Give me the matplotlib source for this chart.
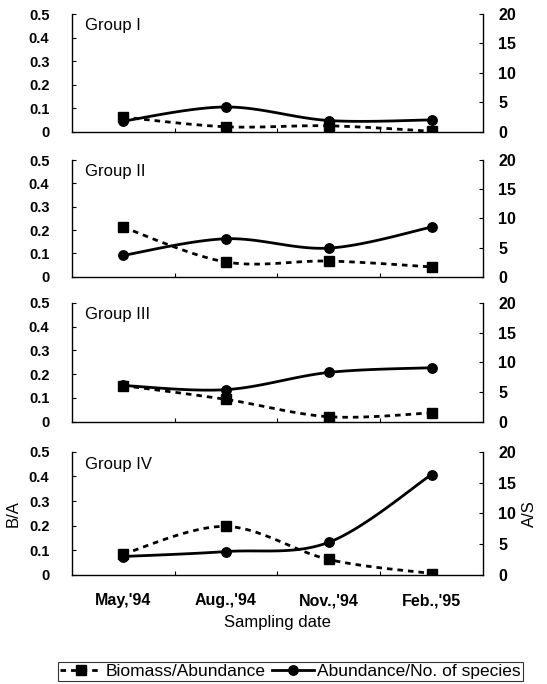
import numpy as np
import matplotlib
matplotlib.use("Agg")
import matplotlib.pyplot as plt
from matplotlib.lines import Line2D

plt.rcParams['font.family'] = ['Liberation Sans', 'DejaVu Sans']

# Sampling dates and groups
dates = ["May,'94", "Aug.,'94", "Nov.,'94", "Feb.,'95"]
groups = ["Group I", "Group II", "Group III", "Group IV"]

# Biomass/Abundance (left axis, B/A)
ba_g1 = [0.062, 0.021, 0.025, 0.002]
ba_g2 = [0.212, 0.063, 0.067, 0.042]
ba_g3 = [0.152, 0.094, 0.021, 0.037]
ba_g4 = [0.085, 0.197, 0.063, 0.006]

# Abundance/No. of species (right axis, A/S)
as_g1 = [1.8, 4.2, 1.9, 2.0]
as_g2 = [3.65, 6.5, 4.9, 8.5]
as_g3 = [6.1, 5.4, 8.3, 9.1]
as_g4 = [3.0, 3.8, 5.3, 16.3]

ba_series = [ba_g1, ba_g2, ba_g3, ba_g4]
as_series = [as_g1, as_g2, as_g3, as_g4]


def smooth(xs, ys, n=40):
    """Catmull-Rom style Bezier smoothing through the given points."""
    xs = np.asarray(xs, float)
    ys = np.asarray(ys, float)
    P = np.column_stack([xs, ys])
    m = len(P)
    out = []
    for i in range(m - 1):
        p0 = P[i - 1] if i > 0 else P[i]
        p1 = P[i]
        p2 = P[i + 1]
        p3 = P[i + 2] if i + 2 < m else P[i + 1]
        c1 = p1 + (p2 - p0) / 6.0
        c2 = p2 - (p3 - p1) / 6.0
        t = np.linspace(0, 1, n)[:, None]
        seg = ((1 - t) ** 3) * p1 + 3 * ((1 - t) ** 2) * t * c1 \
            + 3 * (1 - t) * t ** 2 * c2 + t ** 3 * p2
        out.append(seg if i == 0 else seg[1:])
    arr = np.vstack(out)
    return arr[:, 0], arr[:, 1]


W, H = 547, 684
fig = plt.figure(figsize=(W / 100, H / 100), dpi=100)

left_px, right_px = 71.7, 483.0
panels_px = [(14.0, 131.7), (160.0, 276.7), (303.0, 421.7), (451.7, 575.0)]

x = np.arange(len(dates))
lw = 2.0
dash = (2.0, 1.8)

for k, (top, bot) in enumerate(panels_px):
    ax = fig.add_axes([left_px / W, 1 - bot / H,
                       (right_px - left_px) / W, (bot - top) / H])
    ax2 = ax.twinx()

    ax.set_xlim(-0.5, 3.5)
    ax.set_ylim(0, 0.5)
    ax2.set_ylim(0, 20)

    # B/A: dashed line with squares
    sx, sy = smooth(x, ba_series[k])
    ax.plot(sx, sy, color='black', lw=lw, dashes=dash, zorder=3)
    ax.plot(x, ba_series[k], ls='none', marker='s', ms=6.8,
            color='black', zorder=4)

    # A/S: solid line with circles
    sx, sy = smooth(x, as_series[k])
    ax2.plot(sx, sy, color='black', lw=lw, zorder=3)
    ax2.plot(x, as_series[k], ls='none', marker='o', ms=6.8,
             color='black', zorder=4)

    ax.set_yticks([0, 0.1, 0.2, 0.3, 0.4, 0.5])
    ax.set_yticklabels(['0', '0.1', '0.2', '0.3', '0.4', '0.5'])
    ax2.set_yticks([0, 5, 10, 15, 20])

    ax.set_xticks(x)
    ax.set_xticks([0.5, 1.5, 2.5], minor=True)
    ax.tick_params(axis='x', which='major', length=0, pad=13,
                   labelsize=11.5)
    ax.tick_params(axis='x', which='minor', length=3, direction='in',
                   width=0.8)
    if k == len(panels_px) - 1:
        ax.set_xticklabels(dates, fontweight='bold')
    else:
        ax.set_xticklabels([])

    ax.tick_params(axis='y', direction='in', length=3, width=0.8,
                   pad=16, labelsize=10.5)
    ax2.tick_params(axis='y', direction='in', length=3, width=0.8,
                    pad=11, labelsize=11.5)
    for lab in ax.get_yticklabels() + ax2.get_yticklabels():
        lab.set_fontweight('bold')

    for a in (ax, ax2):
        a.spines['top'].set_visible(False)
        for s in a.spines.values():
            s.set_linewidth(1.0)
    ax.spines['right'].set_visible(False)
    ax2.spines['left'].set_visible(False)
    ax2.spines['bottom'].set_visible(False)

    ax.text(0.032, 0.90, groups[k], transform=ax.transAxes,
            fontsize=12, va='center', ha='left')

    if k == len(panels_px) - 1:
        ax.set_ylabel('B/A', fontsize=12, labelpad=6)
        ax2.set_ylabel('A/S', fontsize=12, labelpad=4, rotation=90)
        ax.set_xlabel('Sampling date', fontsize=12, labelpad=5)

handles = [
    Line2D([], [], color='black', lw=lw, dashes=dash, marker='s',
           ms=6.8),
    Line2D([], [], color='black', lw=lw, marker='o', ms=6.8),
]
labels = ['Biomass/Abundance', 'Abundance/No. of species']
leg = fig.legend(handles, labels, loc='lower center',
                 bbox_to_anchor=(0.531, 0.004), ncol=2, fontsize=12.5,
                 frameon=True, fancybox=False, edgecolor='black',
                 handlelength=2.4, handletextpad=0.2, columnspacing=0.4,
                 borderpad=0.12, numpoints=1, borderaxespad=0)
leg.get_frame().set_linewidth(0.8)

fig.savefig('out.png', dpi=100)
